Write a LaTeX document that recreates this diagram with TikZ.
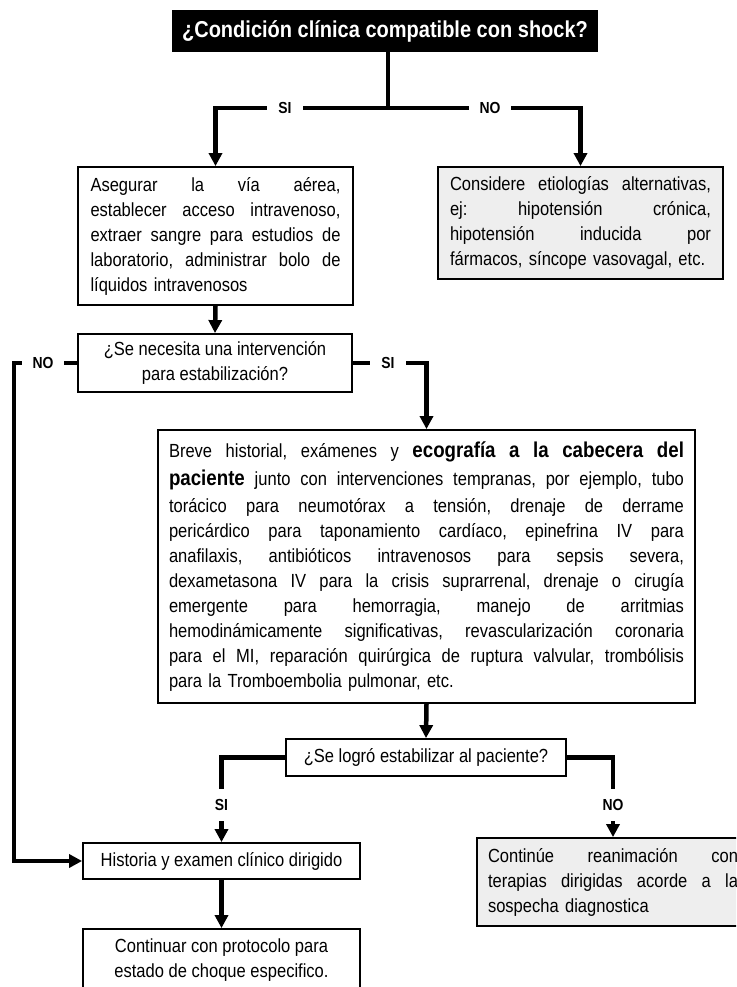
\documentclass[tikz,border=0pt]{standalone}
\usepackage{fontspec}
\setmainfont[FakeStretch=0.87]{Liberation Sans}
\usetikzlibrary{arrows.meta}
\definecolor{boxgray}{HTML}{EEEEEE}
\newcommand\bxfont{\fontsize{19}{25}\selectfont}
\newcommand\lbfont{\bfseries\fontsize{16}{16}\selectfont}
\newcommand\bigb[1]{{\bfseries\fontsize{21.5}{25}\selectfont #1}}
\newcommand\jl[2]{\leavevmode\hbox to #1pt{\frenchspacing\spaceskip=0.23em plus 1fil\relax #2}}
\tikzset{
 conn/.style={line width=4.5pt},
 arr/.style={conn,-{Triangle[width=13pt,length=13pt]}},
 box/.style={draw, line width=1.8pt, fill=white, inner sep=0pt, font=\bxfont},
 gbox/.style={box, fill=boxgray},
 lbl/.style={fill=white, font=\lbfont, inner xsep=11pt, inner ysep=2pt},
 vlbl/.style={fill=white, font=\lbfont, inner xsep=2pt, inner ysep=10pt},
}
\begin{document}
\begin{tikzpicture}[x=1pt,y=-1pt]
\useasboundingbox (0,0) rectangle (736,987);
\clip (0,0) rectangle (736,987);
% nodes
\node[fill=black, text=white, inner sep=0pt, minimum width=426, minimum height=42,
      font=\bfseries\fontsize{23}{25}\selectfont] (t) at (385,31) {¿Condición clínica compatible con shock?};
\node[box, minimum width=275, minimum height=138, text width=250pt, align=left] (b2) at (215.5,236)
 {\jl{250}{Asegurar la vía aérea,}\\
  \jl{250}{establecer acceso intravenoso,}\\
  \jl{250}{extraer sangre para estudios de}\\
  \jl{250}{laboratorio, administrar bolo de}\\
  líquidos intravenosos};
\node[gbox, minimum width=285, minimum height=112, text width=261pt, align=left] (b3) at (580.5,223)
 {\jl{261}{Considere etiologías alternativas,}\\
  \jl{261}{ej: hipotensión crónica,}\\
  \jl{261}{hipotensión inducida por}\\
  fármacos, síncope vasovagal, etc.};
\node[box, minimum width=274, minimum height=58, align=center] (b4) at (215,363)
 {¿Se necesita una intervención\\para estabilización?};
\node[box, minimum width=537, minimum height=273, text width=515pt, align=left] (b5) at (426.5,566.5)
 {\jl{515}{Breve historial, exámenes y \bigb{ecografía a la cabecera del}}\\[3pt]
  \jl{515}{\bigb{paciente} junto con intervenciones tempranas, por ejemplo, tubo}\\[2pt]
  \jl{515}{torácico para neumotórax a tensión, drenaje de derrame}\\
  \jl{515}{pericárdico para taponamiento cardíaco, epinefrina IV para}\\
  \jl{515}{anafilaxis, antibióticos intravenosos para sepsis severa,}\\
  \jl{515}{dexametasona IV para la crisis suprarrenal, drenaje o cirugía}\\
  \jl{515}{emergente para hemorragia, manejo de arritmias}\\
  \jl{515}{hemodinámicamente significativas, revascularización coronaria}\\
  \jl{515}{para el MI, reparación quirúrgica de ruptura valvular, trombólisis}\\
  para la Tromboembolia pulmonar, etc.};
\node[box, minimum width=280, minimum height=37] (b6) at (426,757.5) {¿Se logró estabilizar al paciente?};
\node[box, minimum width=277, minimum height=36] (b7) at (221.5,861) {Historia y examen clínico dirigido};
\node[gbox, minimum width=272, minimum height=88, text width=250pt, align=left] (b8) at (613,882)
 {\jl{250}{Continúe reanimación con}\\
  \jl{250}{terapias dirigidas acorde a la}\\
  sospecha diagnostica};
\node[box, minimum width=277, minimum height=63, align=center] (b9) at (221.5,960.5)
 {Continuar con protocolo para\\estado de choque especifico.};
% connectors
\coordinate (tj) at (388,108);
\coordinate (lx) at (14,0);
\draw[conn] (tj |- t.south) -- (tj);
\draw[arr] (tj) -| (b2.north);
\draw[arr] (tj) -| (b3.north);
\draw[arr] (b2.south) -- (b4.north);
\draw[arr] (b4.west) -- (b4.west -| lx) |- (b7.west);
\draw[arr] (b4.east) -| (b5.north);
\draw[arr] (b5.south) -- (b6.north);
\draw[arr] (b6.west) -| (b7.north);
\draw[arr] (b6.east) -| (b8.north);
\draw[arr] (b7.south) -- (b9.north);
% labels
\node[lbl] (l1) at (285,108) {SI};
\node[lbl] (l2) at (490,108) {NO};
\node[lbl] (l3) at (43,363) {NO};
\node[lbl] (l4) at (388,363) {SI};
\node[vlbl] (l5) at (221.5,805) {SI};
\node[vlbl] (l6) at (613,805) {NO};
\end{tikzpicture}
\end{document}
